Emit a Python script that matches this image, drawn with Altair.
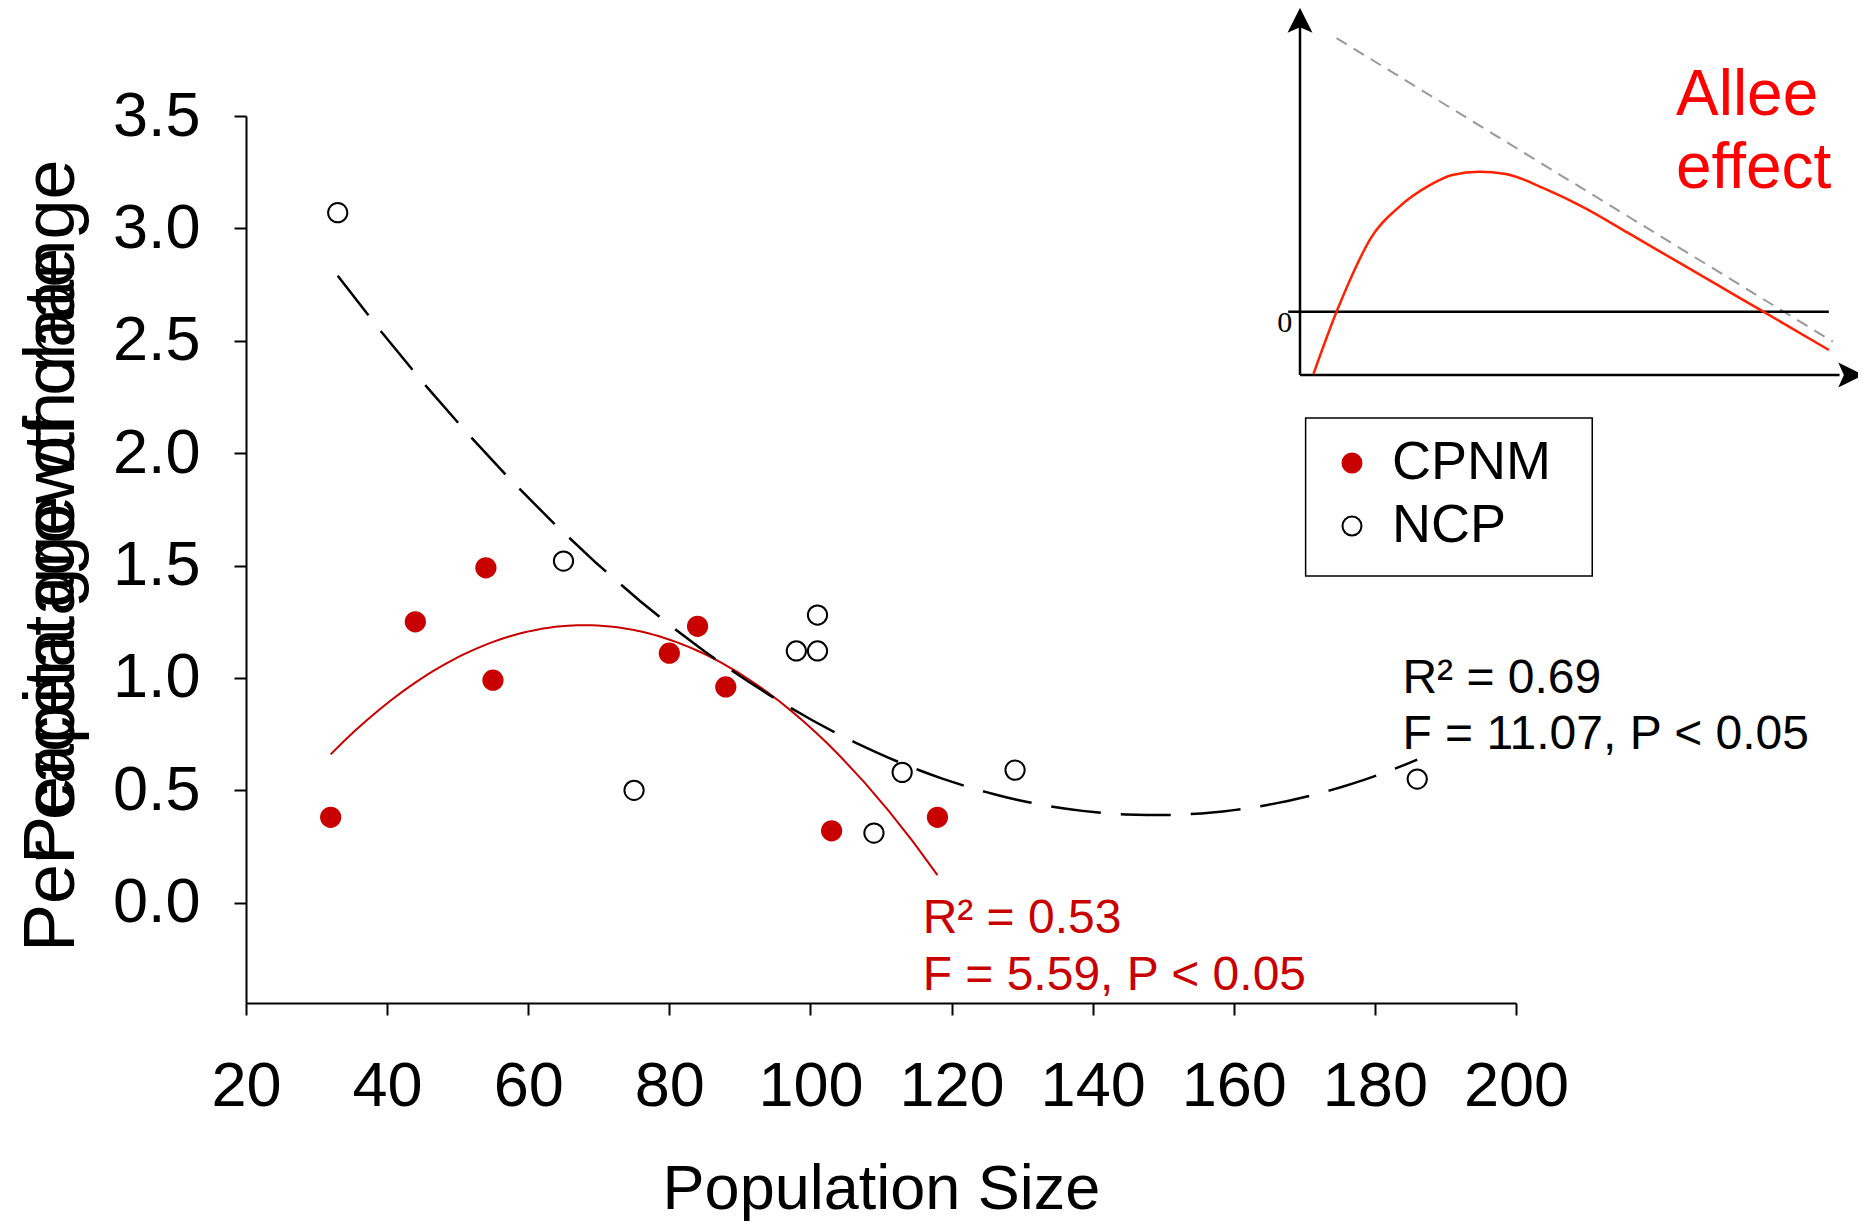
import altair as alt
import pandas as pd

FONT = "Liberation Sans"

# ---------------- data ----------------
groups = ["CPNM", "NCP"]
cpnm_x = [32, 44, 54, 55, 80, 84, 88, 103, 118]
cpnm_y = [0.38, 1.25, 1.49, 0.99, 1.11, 1.23, 0.96, 0.32, 0.38]
ncp_x = [33, 65, 75, 98, 101, 101, 109, 113, 129, 186]
ncp_y = [3.07, 1.52, 0.50, 1.12, 1.28, 1.12, 0.31, 0.58, 0.59, 0.55]

x_ticks = [20, 40, 60, 80, 100, 120, 140, 160, 180, 200]
y_ticks = [0.0, 0.5, 1.0, 1.5, 2.0, 2.5, 3.0, 3.5]

y_titles = ["Per capita growth rate", "Percentage of change"]
stats_cpnm = ["R² = 0.53", "F = 5.59, P < 0.05"]
stats_ncp = ["R² = 0.69", "F = 11.07, P < 0.05"]

# inset schematic (arbitrary units 0-100)
allee_x = [2.4, 6.5, 8.9, 12.6, 17.7, 23.1, 27.1, 31.9, 36.6, 43.4, 50.8, 58.3, 66.4, 74.5, 82.6, 94.1]
allee_y = [0.3, 17.4, 26.2, 37.7, 46.4, 52.3, 55.1, 56.0, 55.4, 51.4, 45.9, 39.2, 31.9, 24.6, 17.3, 6.9]
logistic_x = [6.5, 94.8]
logistic_y = [92.8, 9.2]
zero_level = 17.4
inset_words = ["Allee", "effect"]

# ---------------- colours / layout constants ----------------
DARK_RED = "#C80000"
BRIGHT_RED = "#FF2200"

pts = pd.DataFrame({
    "size": cpnm_x + ncp_x,
    "rate": cpnm_y + ncp_y,
    "group": [groups[0]] * len(cpnm_x) + [groups[1]] * len(ncp_x),
})

xs = alt.Scale(domain=[20, 200], nice=False, zero=False)
ys = alt.Scale(domain=[-0.446, 3.5], nice=False, zero=False)

x_axis = alt.Axis(values=x_ticks, grid=False, tickSize=12, tickWidth=2, domainWidth=2,
                  domainColor="black", tickColor="black", labelColor="black",
                  labelFont=FONT, labelFontSize=63, labelPadding=40, labelFlush=False,
                  title="Population Size", titleFont=FONT, titleFontSize=63,
                  titleFontWeight="normal", titleColor="black", titleBaseline="alphabetic",
                  titleY=205)
y_axis = alt.Axis(values=y_ticks, format=".1f", grid=False, tickSize=12, tickWidth=2,
                  domainWidth=2, domainColor="black", tickColor="black", labelColor="black",
                  labelFont=FONT, labelFontSize=63, labelPadding=34, labelFlush=False, title=None)

X = alt.X("size:Q", scale=xs, axis=x_axis)
Y = alt.Y("rate:Q", scale=ys, axis=y_axis)

base = alt.Chart(pts)

fit_cpnm = base.transform_filter(alt.datum.group == groups[0]).transform_regression(
    "size", "rate", method="poly", order=2
).mark_line(color=DARK_RED, strokeWidth=2).encode(x=X, y=Y)

fit_ncp = base.transform_filter(alt.datum.group == groups[1]).transform_regression(
    "size", "rate", method="poly", order=2
).mark_line(color="black", strokeWidth=2.5, strokeDash=[50, 20]).encode(x=X, y=Y)

leg = alt.Legend(title=None, orient="none", legendX=1059, legendY=300,
                 labelFont=FONT, labelFontSize=54, labelColor="black", labelLimit=500,
                 symbolSize=360, symbolStrokeWidth=2, symbolType="circle",
                 padding=20, rowPadding=9, symbolOffset=0, labelOffset=13)

points = base.mark_point(shape="circle", size=370, strokeWidth=2, opacity=1, fillOpacity=1).encode(
    x=X, y=Y,
    fill=alt.Fill("group:N", scale=alt.Scale(domain=groups, range=[DARK_RED, "white"]), legend=leg),
    stroke=alt.Stroke("group:N", scale=alt.Scale(domain=groups, range=[DARK_RED, "black"]), legend=leg),
)

annot = pd.DataFrame({
    "size": [115.9, 115.9, 183.9, 183.9],
    "rate": [-0.134, -0.386, 0.934, 0.682],
    "label": stats_cpnm + stats_ncp,
    "col": [DARK_RED, DARK_RED, "black", "black"],
})
annot_layer = alt.Chart(annot).mark_text(font=FONT, fontSize=48, align="left",
                                          baseline="alphabetic").encode(
    x=X, y=Y, text="label:N", color=alt.Color("col:N", scale=None))

yt1 = alt.Chart(alt.Data(values=[{}])).mark_text(
    font=FONT, fontSize=72, angle=270, align="left", baseline="alphabetic", color="black"
).encode(x=alt.value(-172), y=alt.value(836), text=alt.value(y_titles[0]))
yt2 = alt.Chart(alt.Data(values=[{}])).mark_text(
    font=FONT, fontSize=72, angle=270, align="left", baseline="alphabetic", color="black"
).encode(x=alt.value(-172), y=alt.value(748), text=alt.value(y_titles[1]))

main = alt.layer(fit_cpnm, fit_ncp, points, annot_layer, yt1, yt2)

# ---------------- inset (schematic + legend frame) ----------------
ixs = alt.Scale(domain=[0, 100], range=[1054, 1616], nice=False, zero=False)
iys = alt.Scale(domain=[0, 100], range=[259, -104], nice=False, zero=False)
IX = alt.X("ix:Q", scale=ixs, axis=None)
IY = alt.Y("iy:Q", scale=iys, axis=None)

frame = alt.Chart(pd.DataFrame({"ix": [1.0], "iy": [-11.85], "ix2": [52.0], "iy2": [-55.4]})).mark_rect(
    fill="white", fillOpacity=0, stroke="black", strokeWidth=1.5
).encode(x=IX, y=IY, x2="ix2:Q", y2="iy2:Q")

allee_df = pd.DataFrame({"ix": allee_x, "iy": allee_y})
allee_line = alt.Chart(allee_df).mark_line(color=BRIGHT_RED, strokeWidth=2.5,
                                           interpolate="monotone").encode(x=IX, y=IY)

log_df = pd.DataFrame({"ix": logistic_x, "iy": logistic_y})
log_line = alt.Chart(log_df).mark_line(color="#999999", strokeWidth=2,
                                       strokeDash=[12, 8]).encode(x=IX, y=IY)

seg_df = pd.DataFrame({
    "ix": [0, 0, -2.1],
    "iy": [0, 0, zero_level],
    "ix2": [0, 96, 94.1],
    "iy2": [96, 0, zero_level],
})
segs = alt.Chart(seg_df).mark_rule(color="black", strokeWidth=2.5).encode(
    x=IX, y=IY, x2="ix2:Q", y2="iy2:Q")

arrow_df = pd.DataFrame({
    "ix": [0, 98.0],
    "iy": [97.7, 0],
    "path": ["M0,-1L1,1L0,0.55L-1,1Z", "M1,0L-1,1L-0.55,0L-1,-1Z"],
})
arrows = alt.Chart(arrow_df).mark_point(filled=True, color="black", opacity=1, size=625).encode(
    x=IX, y=IY, shape=alt.Shape("path:N", scale=None))

zero_lbl = alt.Chart(pd.DataFrame({"ix": [-2.7], "iy": [14.2], "t": ["0"]})).mark_text(
    font="Liberation Serif", fontSize=30, align="center", baseline="middle", color="black"
).encode(x=IX, y=IY, text="t:N")

words = alt.Chart(pd.DataFrame({"ix": [66.9, 66.9], "iy": [71.6, 51.4], "t": inset_words})).mark_text(
    font=FONT, fontSize=64, align="left", baseline="alphabetic", color="#FF0000"
).encode(x=IX, y=IY, text="t:N")

inset = alt.layer(frame, log_line, segs, allee_line, arrows, zero_lbl, words)

chart = alt.layer(main, inset).resolve_scale(x="independent", y="independent").properties(
    width=1270, height=887,
    autosize=alt.AutoSizeParams(type="none"),
    padding={"left": 238, "top": 108, "right": 342, "bottom": 218},
).configure_view(stroke=None)

chart.save("out.html", embed_options={"renderer": "svg", "actions": False})
